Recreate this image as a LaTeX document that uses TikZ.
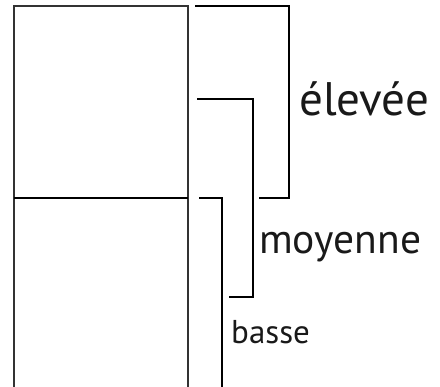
\documentclass[tikz,border=0pt]{standalone}
\usepackage{fontspec}
\setmainfont{PT Sans}
\begin{document}
\begin{tikzpicture}[x=1pt,y=-1pt,
  box/.style={line width=1.6pt, draw=black!80},
  brk/.style={line width=1.1pt, draw=black},
  lbl/.style={anchor=base west, inner sep=0pt, text=black!90}]
\useasboundingbox (0,0) rectangle (440,387);
% column
\draw[box] (14,392) -- (14,6) -- (188,6) -- (188,392);
\draw[line width=1.2pt] (14,198) -- (188,198);
% brackets
\draw[brk] (195,6) -- (289,6) -- (289,198) -- (259,198);
\draw[line width=2pt] (289,6) -- (289,198);
\draw[brk] (197,99) -- (253,99) -- (253,297) -- (229,297);
\draw[brk] (199,198) -- (222,198) -- (222,392);
% labels
\node[lbl, font=\fontsize{47}{47}\selectfont] (high) at (299,116) {élevée};
\node[lbl, font=\fontsize{41.5}{41.5}\selectfont] (mid) at (259,254) {moyenne};
\node[lbl, font=\fontsize{33}{33}\selectfont] (low) at (231,344) {basse};
\end{tikzpicture}
\end{document}
